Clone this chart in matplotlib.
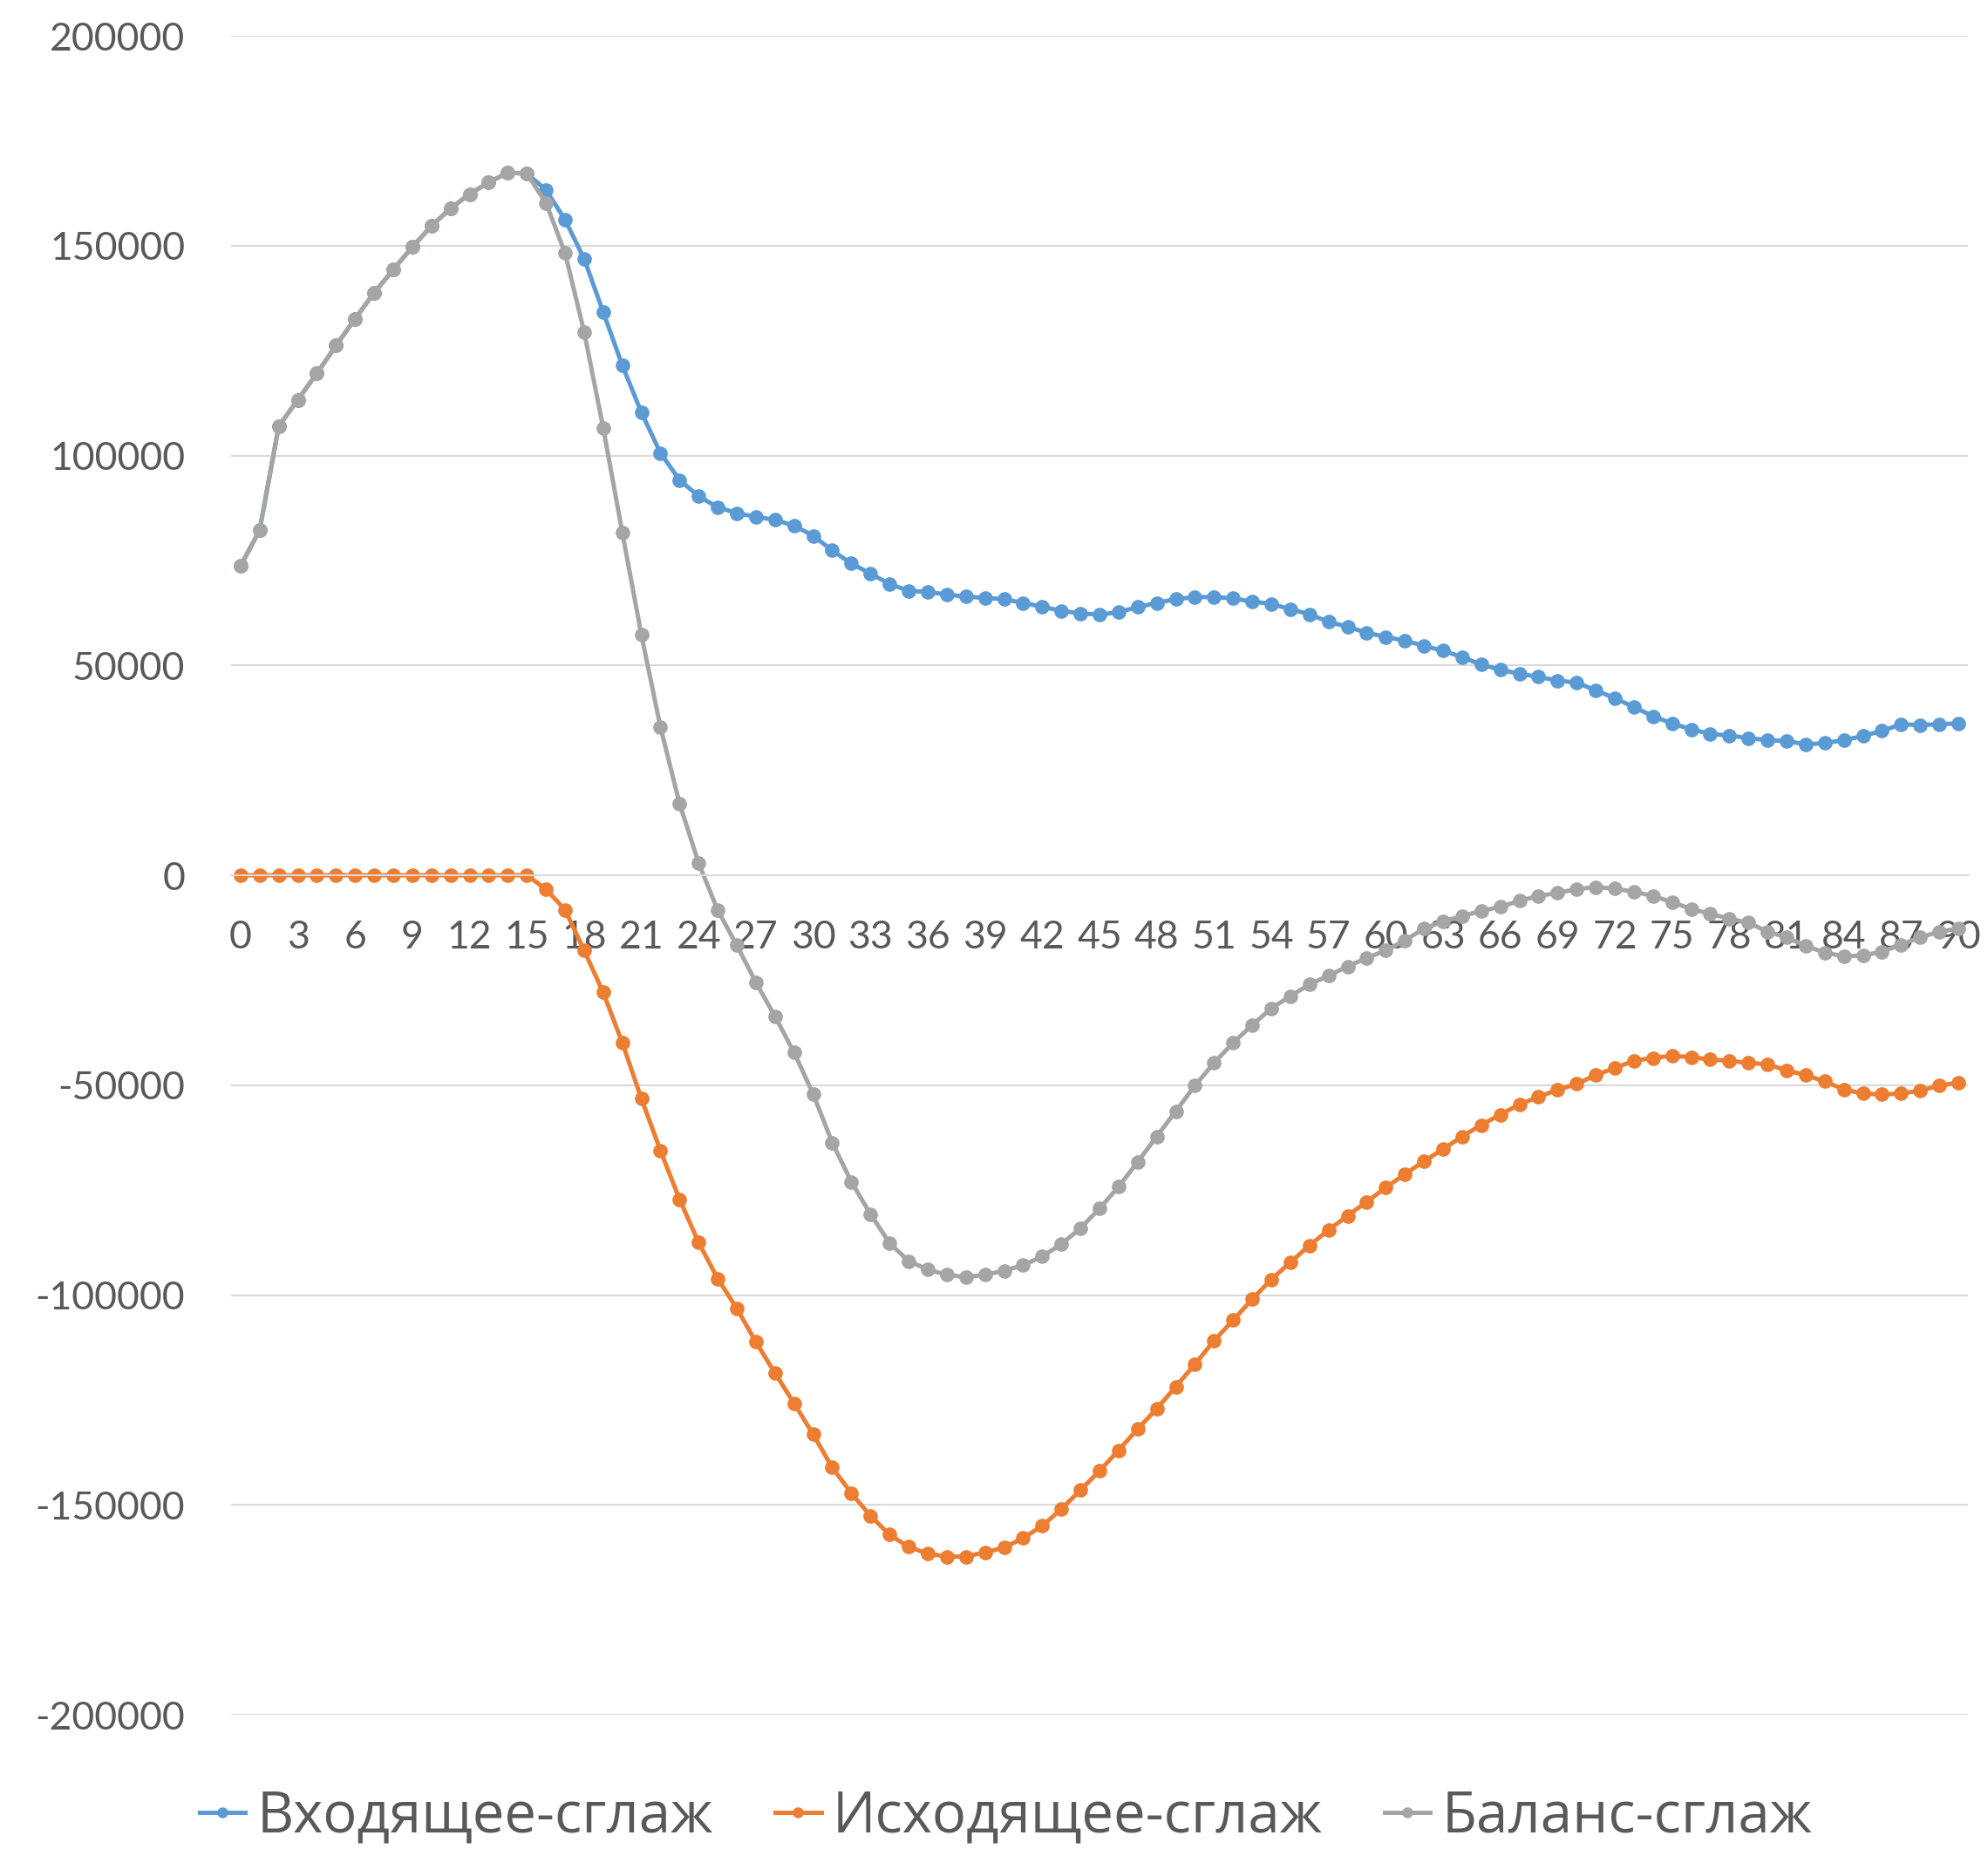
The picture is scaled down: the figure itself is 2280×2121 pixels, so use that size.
import numpy as np
import matplotlib
matplotlib.use("Agg")
import matplotlib.pyplot as plt
from matplotlib.ticker import FuncFormatter

plt.rcParams['axes.unicode_minus'] = False

# данные (сглаженные ряды), день 0..90
days = list(range(91))

incoming = [73700, 82200, 107000, 113300, 119600, 126200, 132600, 138800, 144300, 149700,
            154700, 158900, 162300, 165100, 167400, 167200, 163300, 156200, 146900, 134200,
            121500, 110300, 100600, 94200, 90300, 87700, 86300, 85400, 84700, 83300,
            80900, 77400, 74300, 71900, 69400, 67800, 67500, 66900, 66400, 66100,
            65800, 64900, 64000, 63000, 62400, 62100, 62700, 63900, 64900, 65800,
            66300, 66300, 66000, 65200, 64700, 63400, 62200, 60400, 59200, 57800,
            56800, 55900, 54700, 53500, 52000, 50200, 49000, 48000, 47300, 46400,
            45900, 44100, 42200, 40100, 37900, 36200, 34800, 33700, 33300, 32700,
            32200, 32000, 31200, 31500, 32200, 33200, 34400, 36000, 35800, 36000,
            36200]

outgoing = [0, 0, 0, 0, 0, 0, 0, 0, 0, 0,
            0, 0, 0, 0, 0, 0, -3300, -8200, -17900, -27900,
            -39900, -53200, -65600, -77200, -87500, -96100, -103200, -111200, -118600, -125800,
            -133200, -141100, -147200, -152600, -157100, -160000, -161600, -162300, -162300, -161300,
            -160200, -157900, -155000, -151000, -146500, -141900, -137000, -131900, -127100, -121800,
            -116500, -110900, -106000, -101000, -96300, -92200, -88200, -84500, -81100, -77800,
            -74400, -71200, -68100, -65300, -62200, -59500, -57000, -54600, -52800, -51100,
            -49700, -47600, -45900, -44200, -43500, -43000, -43300, -43900, -44200, -44700,
            -45000, -46500, -47600, -49100, -51000, -52000, -52200, -52000, -51300, -50100,
            -49400]

balance = [73700, 82200, 107000, 113300, 119600, 126200, 132600, 138800, 144300, 149700,
           154700, 158900, 162300, 165100, 167400, 167200, 160200, 148300, 129500, 106600,
           81700, 57300, 35300, 17100, 2900, -8300, -16700, -25500, -33600, -42200,
           -52100, -63700, -73000, -80700, -87600, -91900, -93900, -95200, -95700, -95200,
           -94200, -92900, -90800, -87900, -84100, -79400, -74200, -68300, -62200, -56200,
           -50100, -44700, -39900, -35700, -31700, -28800, -26000, -23900, -21700, -19700,
           -17900, -15500, -12700, -11000, -9700, -8500, -7500, -6100, -4900, -4200,
           -3300, -2800, -3200, -3900, -4900, -6400, -8000, -9200, -10300, -11300,
           -13400, -14800, -16800, -18400, -19300, -19100, -18200, -16500, -14800, -13400,
           -12700]

labels = ['Входящее-сглаж', 'Исходящее-сглаж', 'Баланс-сглаж']
colors = ['#5B9BD5', '#ED7D31', '#A5A5A5']

text_color = '#595959'
grid_color = '#D9D9D9'

fig = plt.figure(figsize=(22.8, 21.21), dpi=100)
ax = fig.add_axes([0.1162, 0.0726, 0.8737, 0.908])

for series, lab, col in zip([incoming, outgoing, balance], labels, colors):
    ax.plot(days, series, color=col, lw=3.6, marker='o', markersize=12,
            markeredgewidth=0, label=lab, clip_on=False)

ax.set_xlim(-0.5, 90.5)
ax.set_ylim(-200000, 200000)
ax.set_yticks(np.arange(-200000, 200001, 50000))
ax.yaxis.set_major_formatter(FuncFormatter(lambda v, p: '%d' % v))
ax.set_xticks(range(0, 91, 3))

ax.grid(axis='y', color=grid_color, lw=1.5)
ax.set_axisbelow(True)
for s in ['top', 'right', 'left']:
    ax.spines[s].set_visible(False)
ax.spines['bottom'].set_position(('data', 0))
ax.spines['bottom'].set_color(grid_color)
ax.spines['bottom'].set_linewidth(1.5)

ax.tick_params(axis='y', length=0, pad=38, labelsize=32, labelcolor=text_color)
ax.tick_params(axis='x', length=0, pad=37, labelsize=32, labelcolor=text_color)
for t in ax.get_xticklabels() + ax.get_yticklabels():
    t.set_fontfamily(['Lato', 'Open Sans', 'DejaVu Sans'])

leg = fig.legend(loc='center', bbox_to_anchor=(0.506, 0.017), ncol=3, frameon=False,
                 handlelength=0.8, handletextpad=0.2, columnspacing=1.1,
                 prop={'family': ['Open Sans', 'DejaVu Sans'], 'size': 47})
for t in leg.get_texts():
    t.set_color(text_color)
for h in leg.get_lines():
    h.set_markersize(9)

fig.savefig('out.png', dpi=100)
